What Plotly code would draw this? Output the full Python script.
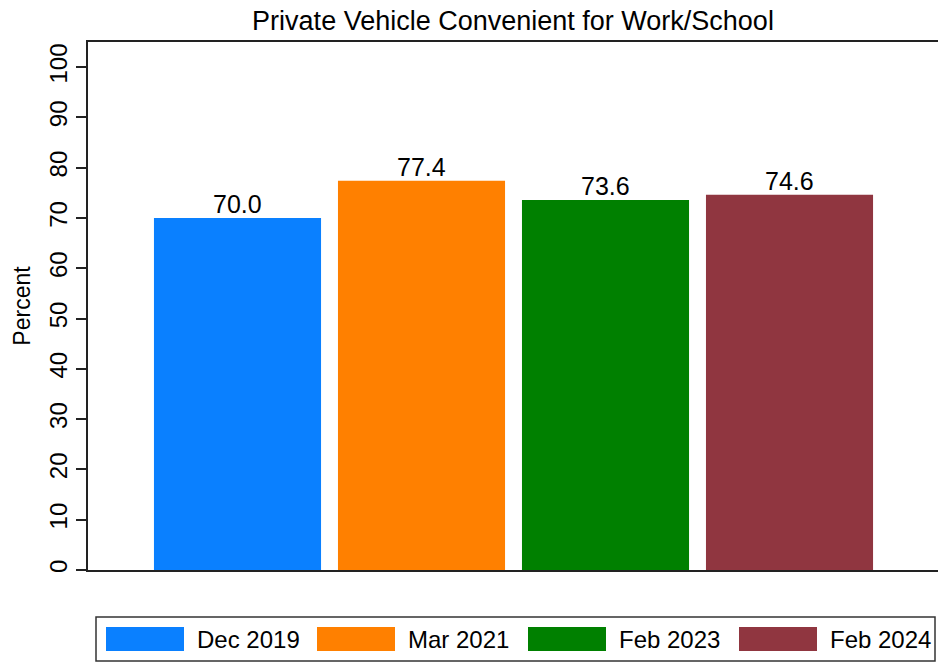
import plotly.graph_objects as go

categories = ["Dec 2019", "Mar 2021", "Feb 2023", "Feb 2024"]
values = [70.0, 77.4, 73.6, 74.6]
colors = ["#0a80ff", "#ff8000", "#008000", "#903640"]
y_ticks = [0, 10, 20, 30, 40, 50, 60, 70, 80, 90, 100]

FONT = "Liberation Sans, Arial, Helvetica, sans-serif"
W, H = 938, 662
L, R, T, B = 88, 0, 42, 92
pw, ph = W - L - R, H - T - B

def px_x(x):
    return (x - L) / pw

def px_y(y):
    return (H - B - y) / ph

fig = go.Figure()
fig.add_trace(go.Bar(
    x=categories, y=values,
    marker=dict(color=colors, line=dict(width=0)),
    showlegend=False, hoverinfo="skip",
))

shapes = []
annotations = []
# value labels above bars (positioned through the data axes)
for c, v in zip(categories, values):
    annotations.append(dict(text=f"{v:.1f}", x=c, y=v, xref="x", yref="y",
                            xanchor="center", yanchor="bottom", yshift=-2,
                            showarrow=False,
                            font=dict(size=25, color="black", family=FONT)))
# legend box
shapes.append(dict(type="rect", xref="paper", yref="paper",
                   x0=px_x(96), x1=px_x(935), y0=px_y(661), y1=px_y(617),
                   line=dict(color="#333333", width=1.5), fillcolor="white"))
sw_start = 106
pitch = 211
for i, (c, col) in enumerate(zip(categories, colors)):
    x0 = sw_start + i * pitch
    shapes.append(dict(type="rect", xref="paper", yref="paper",
                       x0=px_x(x0), x1=px_x(x0 + 78), y0=px_y(651), y1=px_y(627),
                       line=dict(width=0), fillcolor=col))
    annotations.append(dict(text=c, xref="paper", yref="paper",
                            x=px_x(x0 + 89), y=px_y(639), xanchor="left", yanchor="middle",
                            showarrow=False, font=dict(size=24, color="black", family=FONT)))

fig.update_layout(
    width=W, height=H,
    margin=dict(l=L, r=R, t=T, b=B),
    plot_bgcolor="white", paper_bgcolor="white",
    font=dict(family=FONT, color="black"),
    title=dict(text="Private Vehicle Convenient for Work/School",
               x=0.5, xref="paper", xanchor="center",
               y=1 - 21 / H, yref="container", yanchor="middle",
               font=dict(size=27, color="black", family=FONT)),
    bargap=0.092,
    shapes=shapes,
    annotations=annotations,
    showlegend=False,
)
fig.update_xaxes(range=[-0.8125, 3.807], showticklabels=False, ticks="",
                 showline=True, linecolor="#222222", linewidth=1.5, mirror=True,
                 showgrid=False, zeroline=False, fixedrange=True)
fig.update_yaxes(range=[0, 105], tickvals=y_ticks, ticks="outside", ticklen=10,
                 tickcolor="#222222", tickwidth=1.5, tickangle=-90,
                 tickfont=dict(size=24, color="black", family=FONT),
                 showline=True, linecolor="#222222", linewidth=1.5, mirror=False,
                 showgrid=False, zeroline=False, fixedrange=True,
                 title=dict(text="Percent", font=dict(size=23, color="black", family=FONT), standoff=8))

fig.write_html("out.html", config={"displayModeBar": False},
               post_script="document.body.style.margin='0';document.body.style.overflow='hidden';")
